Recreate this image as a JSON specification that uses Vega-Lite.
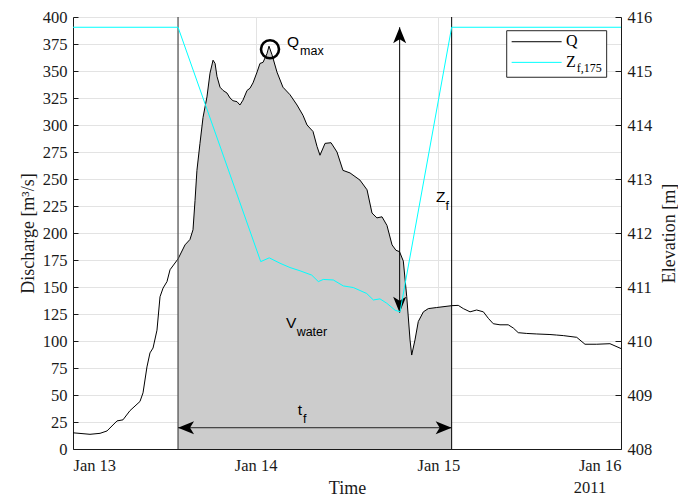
{
  "$schema": "https://vega.github.io/schema/vega-lite/v6.json",
  "width": 548,
  "height": 432,
  "autosize": {"type": "none"},
  "padding": {"left": 73, "top": 17, "right": 57, "bottom": 48},
  "background": "white",
  "config": {
    "view": {"stroke": null},
    "axis": {
      "labelFont": "Liberation Serif",
      "titleFont": "Liberation Serif",
      "labelFontSize": 16.5,
      "titleFontSize": 18,
      "titleFontWeight": "normal",
      "labelColor": "#1a1a1a",
      "titleColor": "#1a1a1a",
      "domainColor": "#1a1a1a",
      "tickColor": "#1a1a1a",
      "gridColor": "#e3e3e3",
      "gridOpacity": 1,
      "labelOverlap": false
    }
  },
  "datasets": {
    "q": [
      {"t": "2011-01-13T00:00:00Z", "q": 15},
      {"t": "2011-01-13T02:14:00Z", "q": 13.6},
      {"t": "2011-01-13T03:33:00Z", "q": 14.5},
      {"t": "2011-01-13T04:28:00Z", "q": 16.7},
      {"t": "2011-01-13T05:47:00Z", "q": 26},
      {"t": "2011-01-13T06:34:00Z", "q": 27},
      {"t": "2011-01-13T07:29:00Z", "q": 35.5},
      {"t": "2011-01-13T08:48:00Z", "q": 44},
      {"t": "2011-01-13T09:12:00Z", "q": 52},
      {"t": "2011-01-13T09:43:00Z", "q": 76},
      {"t": "2011-01-13T10:07:00Z", "q": 89},
      {"t": "2011-01-13T10:31:00Z", "q": 93.5},
      {"t": "2011-01-13T11:02:00Z", "q": 110},
      {"t": "2011-01-13T11:26:00Z", "q": 141},
      {"t": "2011-01-13T11:50:00Z", "q": 149},
      {"t": "2011-01-13T12:21:00Z", "q": 155},
      {"t": "2011-01-13T12:45:00Z", "q": 166},
      {"t": "2011-01-13T13:48:00Z", "q": 176},
      {"t": "2011-01-13T14:43:00Z", "q": 189},
      {"t": "2011-01-13T15:22:00Z", "q": 194},
      {"t": "2011-01-13T15:46:00Z", "q": 203},
      {"t": "2011-01-13T16:02:00Z", "q": 230},
      {"t": "2011-01-13T16:17:00Z", "q": 258},
      {"t": "2011-01-13T16:41:00Z", "q": 283},
      {"t": "2011-01-13T17:05:00Z", "q": 307},
      {"t": "2011-01-13T17:36:00Z", "q": 326},
      {"t": "2011-01-13T18:00:00Z", "q": 348},
      {"t": "2011-01-13T18:24:00Z", "q": 360},
      {"t": "2011-01-13T18:40:00Z", "q": 357},
      {"t": "2011-01-13T18:55:00Z", "q": 345},
      {"t": "2011-01-13T19:19:00Z", "q": 335},
      {"t": "2011-01-13T19:43:00Z", "q": 332},
      {"t": "2011-01-13T20:14:00Z", "q": 329.6},
      {"t": "2011-01-13T20:38:00Z", "q": 325},
      {"t": "2011-01-13T21:01:00Z", "q": 322.5},
      {"t": "2011-01-13T21:33:00Z", "q": 321.6},
      {"t": "2011-01-13T21:56:00Z", "q": 318.5},
      {"t": "2011-01-13T22:20:00Z", "q": 323},
      {"t": "2011-01-13T22:52:00Z", "q": 332},
      {"t": "2011-01-13T23:15:00Z", "q": 334},
      {"t": "2011-01-13T23:39:00Z", "q": 339},
      {"t": "2011-01-14T00:11:00Z", "q": 349},
      {"t": "2011-01-14T00:34:00Z", "q": 357},
      {"t": "2011-01-14T00:58:00Z", "q": 358},
      {"t": "2011-01-14T01:29:00Z", "q": 366},
      {"t": "2011-01-14T01:45:00Z", "q": 373},
      {"t": "2011-01-14T02:09:00Z", "q": 365},
      {"t": "2011-01-14T02:48:00Z", "q": 349},
      {"t": "2011-01-14T03:35:00Z", "q": 335},
      {"t": "2011-01-14T04:31:00Z", "q": 328},
      {"t": "2011-01-14T05:26:00Z", "q": 318.5},
      {"t": "2011-01-14T06:13:00Z", "q": 309},
      {"t": "2011-01-14T06:45:00Z", "q": 300},
      {"t": "2011-01-14T07:32:00Z", "q": 294},
      {"t": "2011-01-14T08:04:00Z", "q": 280},
      {"t": "2011-01-14T08:27:00Z", "q": 272},
      {"t": "2011-01-14T09:07:00Z", "q": 283},
      {"t": "2011-01-14T09:54:00Z", "q": 283.6},
      {"t": "2011-01-14T10:41:00Z", "q": 275},
      {"t": "2011-01-14T11:28:00Z", "q": 258},
      {"t": "2011-01-14T12:24:00Z", "q": 255.6},
      {"t": "2011-01-14T13:42:00Z", "q": 249},
      {"t": "2011-01-14T14:38:00Z", "q": 240},
      {"t": "2011-01-14T15:17:00Z", "q": 218.5},
      {"t": "2011-01-14T15:56:00Z", "q": 214},
      {"t": "2011-01-14T16:36:00Z", "q": 215},
      {"t": "2011-01-14T17:15:00Z", "q": 207},
      {"t": "2011-01-14T17:55:00Z", "q": 189},
      {"t": "2011-01-14T18:26:00Z", "q": 184},
      {"t": "2011-01-14T18:54:00Z", "q": 182.7},
      {"t": "2011-01-14T19:24:00Z", "q": 174},
      {"t": "2011-01-14T19:51:00Z", "q": 141},
      {"t": "2011-01-14T20:17:00Z", "q": 101},
      {"t": "2011-01-14T20:30:00Z", "q": 87},
      {"t": "2011-01-14T20:56:00Z", "q": 101},
      {"t": "2011-01-14T21:22:00Z", "q": 118},
      {"t": "2011-01-14T22:02:00Z", "q": 127},
      {"t": "2011-01-14T22:41:00Z", "q": 130},
      {"t": "2011-01-14T23:47:00Z", "q": 131},
      {"t": "2011-01-15T01:45:00Z", "q": 132.7},
      {"t": "2011-01-15T02:37:00Z", "q": 133},
      {"t": "2011-01-15T03:17:00Z", "q": 130},
      {"t": "2011-01-15T04:10:00Z", "q": 127},
      {"t": "2011-01-15T05:02:00Z", "q": 128.7},
      {"t": "2011-01-15T05:55:00Z", "q": 127},
      {"t": "2011-01-15T06:34:00Z", "q": 121},
      {"t": "2011-01-15T07:13:00Z", "q": 116},
      {"t": "2011-01-15T08:06:00Z", "q": 115},
      {"t": "2011-01-15T09:11:00Z", "q": 115},
      {"t": "2011-01-15T09:51:00Z", "q": 112},
      {"t": "2011-01-15T10:30:00Z", "q": 107.7},
      {"t": "2011-01-15T11:37:00Z", "q": 107},
      {"t": "2011-01-15T12:56:00Z", "q": 106.5},
      {"t": "2011-01-15T14:40:00Z", "q": 106},
      {"t": "2011-01-15T15:33:00Z", "q": 105.5},
      {"t": "2011-01-15T16:25:00Z", "q": 105},
      {"t": "2011-01-15T18:11:00Z", "q": 103.4},
      {"t": "2011-01-15T19:16:00Z", "q": 97},
      {"t": "2011-01-15T20:49:00Z", "q": 97},
      {"t": "2011-01-15T22:33:00Z", "q": 97.5},
      {"t": "2011-01-16T00:00:00Z", "q": 93}
    ],
    "z": [
      {"t": "2011-01-13T00:00:00Z", "z": 415.81},
      {"t": "2011-01-13T13:48:00Z", "z": 415.81},
      {"t": "2011-01-14T00:40:00Z", "z": 411.47},
      {"t": "2011-01-14T01:47:00Z", "z": 411.54},
      {"t": "2011-01-14T03:12:00Z", "z": 411.44},
      {"t": "2011-01-14T04:31:00Z", "z": 411.36},
      {"t": "2011-01-14T05:50:00Z", "z": 411.3},
      {"t": "2011-01-14T07:22:00Z", "z": 411.22},
      {"t": "2011-01-14T08:14:00Z", "z": 411.1},
      {"t": "2011-01-14T08:53:00Z", "z": 411.14},
      {"t": "2011-01-14T10:12:00Z", "z": 411.13},
      {"t": "2011-01-14T11:31:00Z", "z": 411.02},
      {"t": "2011-01-14T12:50:00Z", "z": 410.99},
      {"t": "2011-01-14T14:35:00Z", "z": 410.88},
      {"t": "2011-01-14T15:28:00Z", "z": 410.76},
      {"t": "2011-01-14T16:20:00Z", "z": 410.78},
      {"t": "2011-01-14T17:13:00Z", "z": 410.7},
      {"t": "2011-01-14T18:19:00Z", "z": 410.57},
      {"t": "2011-01-14T18:58:00Z", "z": 410.54},
      {"t": "2011-01-15T01:45:00Z", "z": 415.81},
      {"t": "2011-01-16T00:00:00Z", "z": 415.81}
    ],
    "edge_start": [
      {"t": "2011-01-13T13:48:00Z"}
    ],
    "edge_end": [
      {"t": "2011-01-15T01:45:00Z"}
    ],
    "vseg": [
      {"t": "2011-01-14T18:55:00Z", "q": 126.2, "q2": 390.5}
    ],
    "hseg": [
      {"t": "2011-01-13T13:48:00Z", "t2": "2011-01-15T01:45:00Z", "q": 19.7}
    ],
    "heads": [
      {"t": "2011-01-14T18:55:00Z", "q": 390.5, "dir": "up"},
      {"t": "2011-01-14T18:55:00Z", "q": 126.2, "dir": "down"},
      {"t": "2011-01-13T13:48:00Z", "q": 19.7, "dir": "left"},
      {"t": "2011-01-15T01:45:00Z", "q": 19.7, "dir": "right"}
    ],
    "peak": [
      {"t": "2011-01-14T01:53:00Z", "q": 370.1}
    ],
    "labels_main": [
      {"t": "2011-01-14T04:07:00Z", "q": 372.2, "text": "Q"},
      {"t": "2011-01-14T03:59:00Z", "q": 112.3, "text": "V"},
      {"t": "2011-01-14T23:41:00Z", "q": 228.7, "text": "Z"},
      {"t": "2011-01-14T05:31:00Z", "q": 31.5, "text": "t"}
    ],
    "labels_sub": [
      {"t": "2011-01-14T05:50:00Z", "q": 364.8, "text": "max"},
      {"t": "2011-01-14T05:23:00Z", "q": 104.6, "text": "water"},
      {"t": "2011-01-15T00:56:00Z", "q": 221.3, "text": "f"},
      {"t": "2011-01-14T06:13:00Z", "q": 24.4, "text": "f"}
    ],
    "legbox": [
      {"t": "2011-01-15T08:59:00Z", "t2": "2011-01-15T22:07:00Z", "q": 387.3, "q2": 344.2}
    ],
    "legline_q": [
      {"t": "2011-01-15T09:38:00Z", "t2": "2011-01-15T16:12:00Z", "q": 377.1}
    ],
    "legline_z": [
      {"t": "2011-01-15T09:38:00Z", "t2": "2011-01-15T16:12:00Z", "q": 358.0}
    ],
    "legtext_main": [
      {"t": "2011-01-15T16:46:00Z", "q": 373, "text": "Q"},
      {"t": "2011-01-15T16:46:00Z", "q": 354, "text": "Z"}
    ],
    "legtext_sub": [
      {"t": "2011-01-15T18:11:00Z", "q": 349.5, "text": "f,175"}
    ],
    "year": [
      {"t": "2011-01-15T19:56:00Z", "q": -36, "text": "2011"}
    ]
  },
  "layer": [
    {
      "layer": [
        {
          "data": {"name": "q", "format": {"parse": {"t": "date"}}},
          "transform": [
            {"filter": "toDate(datum.t) >= utc(2011,0,13,13,48) && toDate(datum.t) <= utc(2011,0,15,1,45)"}
          ],
          "mark": {"type": "area", "color": "#cccccc", "opacity": 1},
          "encoding": {
            "x": {
              "field": "t", "type": "temporal",
              "scale": {"type": "utc", "domain": [1294876800000, 1295136000000]},
              "axis": {
                "values": [1294876800000, 1294963200000, 1295049600000, 1295136000000],
                "labelExpr": "utcFormat(datum.value, '%b %d')",
                "title": "Time", "grid": true, "ticks": false,
                "labelPadding": 8, "titlePadding": 6, "labelOverlap": false
              }
            },
            "y": {
              "field": "q", "type": "quantitative",
              "scale": {"domain": [0, 400], "nice": false},
              "axis": {
                "values": [0, 25, 50, 75, 100, 125, 150, 175, 200, 225, 250, 275, 300, 325, 350, 375, 400],
                "tickCount": 40, "format": "d",
                "title": "Discharge [m³/s]", "grid": true, "labelOverlap": false,
                "tickSize": -5, "labelPadding": 11, "titlePadding": 5
              }
            }
          }
        },
        {
          "data": {"name": "q", "format": {"parse": {"t": "date"}}},
          "mark": {"type": "line", "color": "#000000", "strokeWidth": 1},
          "encoding": {
            "x": {"field": "t", "type": "temporal"},
            "y": {"field": "q", "type": "quantitative"}
          }
        },
        {
          "data": {"name": "edge_start", "format": {"parse": {"t": "date"}}},
          "mark": {"type": "rule", "strokeWidth": 1.3, "color": "#555555"},
          "encoding": {
            "x": {"field": "t", "type": "temporal"}
          }
        },
        {
          "data": {"name": "edge_end", "format": {"parse": {"t": "date"}}},
          "mark": {"type": "rule", "strokeWidth": 1, "color": "#000000"},
          "encoding": {
            "x": {"field": "t", "type": "temporal"}
          }
        },
        {
          "data": {"name": "vseg", "format": {"parse": {"t": "date"}}},
          "mark": {"type": "rule", "color": "#000000", "strokeWidth": 1},
          "encoding": {
            "x": {"field": "t", "type": "temporal"},
            "y": {"field": "q", "type": "quantitative"},
            "y2": {"field": "q2"}
          }
        },
        {
          "data": {"name": "hseg", "format": {"parse": {"t": "date", "t2": "date"}}},
          "mark": {"type": "rule", "color": "#222222", "strokeWidth": 1},
          "encoding": {
            "x": {"field": "t", "type": "temporal"},
            "x2": {"field": "t2"},
            "y": {"field": "q", "type": "quantitative"}
          }
        },
        {
          "data": {"name": "heads", "format": {"parse": {"t": "date"}}},
          "mark": {"type": "point", "filled": true, "opacity": 1, "strokeWidth": 0, "size": 400, "color": "#000000"},
          "encoding": {
            "x": {"field": "t", "type": "temporal"},
            "y": {"field": "q", "type": "quantitative"},
            "shape": {
              "field": "dir", "type": "nominal",
              "scale": {
                "domain": ["up", "down", "left", "right"],
                "range": ["M0,0L0.65,1.6L0,1.2L-0.65,1.6Z", "M0,0L0.65,-1.6L0,-1.2L-0.65,-1.6Z", "M0,0L1.6,-0.65L1.2,0L1.6,0.65Z", "M0,0L-1.6,-0.65L-1.2,0L-1.6,0.65Z"]
              },
              "legend": null
            }
          }
        },
        {
          "data": {"name": "peak", "format": {"parse": {"t": "date"}}},
          "mark": {"type": "point", "shape": "circle", "filled": false, "stroke": "#000000", "strokeWidth": 2.6, "size": 324, "opacity": 1},
          "encoding": {
            "x": {"field": "t", "type": "temporal"},
            "y": {"field": "q", "type": "quantitative"}
          }
        },
        {
          "data": {"name": "labels_main", "format": {"parse": {"t": "date"}}},
          "mark": {"type": "text", "font": "Liberation Sans", "fontSize": 15.5, "align": "left", "baseline": "alphabetic", "color": "#000000"},
          "encoding": {
            "x": {"field": "t", "type": "temporal"},
            "y": {"field": "q", "type": "quantitative"},
            "text": {"field": "text"}
          }
        },
        {
          "data": {"name": "labels_sub", "format": {"parse": {"t": "date"}}},
          "mark": {"type": "text", "font": "Liberation Sans", "fontSize": 12.5, "align": "left", "baseline": "alphabetic", "color": "#000000"},
          "encoding": {
            "x": {"field": "t", "type": "temporal"},
            "y": {"field": "q", "type": "quantitative"},
            "text": {"field": "text"}
          }
        },
        {
          "data": {"name": "legbox", "format": {"parse": {"t": "date", "t2": "date"}}},
          "mark": {"type": "rect", "fill": "#ffffff", "stroke": "#262626", "strokeWidth": 1},
          "encoding": {
            "x": {"field": "t", "type": "temporal"},
            "x2": {"field": "t2"},
            "y": {"field": "q", "type": "quantitative"},
            "y2": {"field": "q2"}
          }
        },
        {
          "data": {"name": "legline_q", "format": {"parse": {"t": "date", "t2": "date"}}},
          "mark": {"type": "rule", "strokeWidth": 1, "color": "#000000"},
          "encoding": {
            "x": {"field": "t", "type": "temporal"},
            "x2": {"field": "t2"},
            "y": {"field": "q", "type": "quantitative"}
          }
        },
        {
          "data": {"name": "legline_z", "format": {"parse": {"t": "date", "t2": "date"}}},
          "mark": {"type": "rule", "strokeWidth": 1, "color": "#00ffff"},
          "encoding": {
            "x": {"field": "t", "type": "temporal"},
            "x2": {"field": "t2"},
            "y": {"field": "q", "type": "quantitative"}
          }
        },
        {
          "data": {"name": "legtext_main", "format": {"parse": {"t": "date"}}},
          "mark": {"type": "text", "font": "Liberation Serif", "fontSize": 16, "align": "left", "baseline": "alphabetic", "color": "#000000"},
          "encoding": {
            "x": {"field": "t", "type": "temporal"},
            "y": {"field": "q", "type": "quantitative"},
            "text": {"field": "text"}
          }
        },
        {
          "data": {"name": "legtext_sub", "format": {"parse": {"t": "date"}}},
          "mark": {"type": "text", "font": "Liberation Serif", "fontSize": 12, "align": "left", "baseline": "alphabetic", "color": "#000000"},
          "encoding": {
            "x": {"field": "t", "type": "temporal"},
            "y": {"field": "q", "type": "quantitative"},
            "text": {"field": "text"}
          }
        },
        {
          "data": {"name": "year", "format": {"parse": {"t": "date"}}},
          "mark": {"type": "text", "font": "Liberation Serif", "fontSize": 16.5, "align": "center", "baseline": "middle", "color": "#1a1a1a"},
          "encoding": {
            "x": {"field": "t", "type": "temporal"},
            "y": {"field": "q", "type": "quantitative"},
            "text": {"field": "text"}
          }
        }
      ]
    },
    {
      "data": {"name": "z", "format": {"parse": {"t": "date"}}},
      "mark": {"type": "line", "color": "#00ffff", "strokeWidth": 1},
      "encoding": {
        "x": {"field": "t", "type": "temporal"},
        "y": {
          "field": "z", "type": "quantitative",
          "scale": {"domain": [408, 416], "nice": false, "zero": false},
          "axis": {
            "orient": "right",
            "values": [408, 409, 410, 411, 412, 413, 414, 415, 416],
            "tickCount": 20, "format": "d",
            "title": "Elevation [m]", "titleAngle": 270, "titleBaseline": "top", "grid": false, "labelOverlap": false,
            "tickSize": -6, "labelPadding": 12, "titlePadding": 9
          }
        }
      }
    }
  ],
  "resolve": {"scale": {"y": "independent"}}
}
